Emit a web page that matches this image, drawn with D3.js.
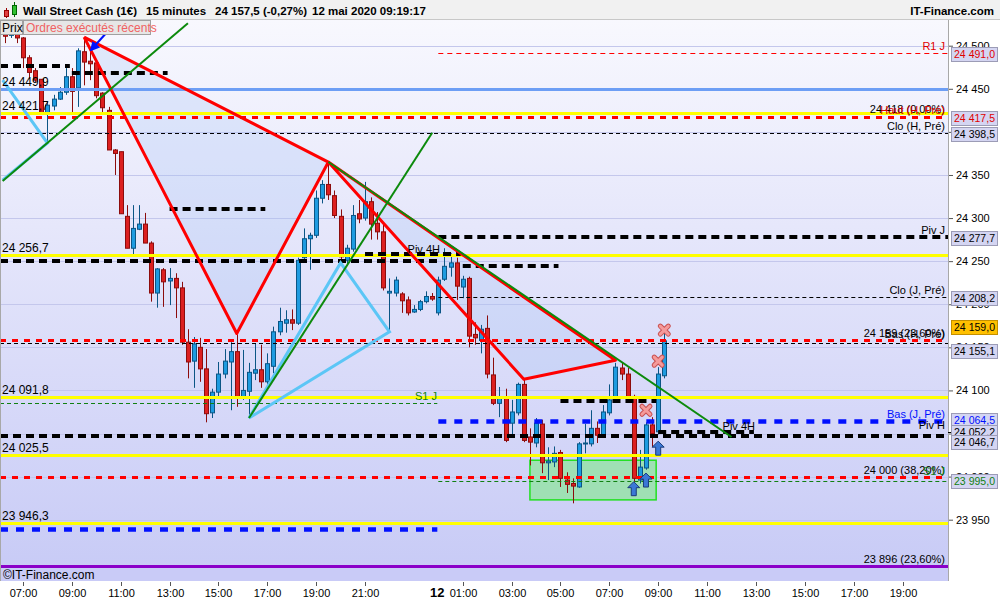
<!DOCTYPE html>
<html>
<head>
<meta charset="utf-8">
<script src="https://d3js.org/d3.v7.min.js"></script>
<style>
  body { margin: 0; background: #fff; }
  svg { display: block; font-family: "Liberation Sans", Arial, sans-serif; }
</style>
</head>
<body>
<div id="chart"></div>
<script>
// ---- data (Wall Street Cash, 15 min candles, 11/05 06:15 -> 12/05 09:15) ----
var firstCandle = new Date(2020, 4, 11, 6, 15);
var lastCandle = new Date(2020, 4, 12, 9, 15);

var opens = [
  24515,24512,24514,24509,24486,24471,24461,24422,24430,24438,
  24446,24464,24451,24493,24482,24480,24445,24425,24379,24377,
  24302,24265,24287,24293,24271,24213,24240,24227,24230,24219,
  24156,24134,24150,24125,24074,24098,24119,24133,24145,24092,
  24099,24120,24124,24110,24128,24168,24178,24182,24178,24254,
  24276,24280,24323,24339,24326,24302,24251,24264,24305,24300,
  24319,24294,24284,24213,24213,24212,24205,24191,24194,24203,
  24209,24190,24229,24243,24248,24220,24230,24165,24158,24172,
  24118,24085,24092,24062,24074,24107,24046,24039,24061,24016,
  24017,24028,23996,23992,23988,24038,24038,24056,24048,24074,
  24089,24126,24119,24093,23996,24010,24060,24052,24117
];
var highs = [
  24516,24516,24516,24510,24489,24474,24461,24435,24443,24452,
  24474,24474,24497,24510,24497,24483,24446,24429,24380,24377,
  24315,24315,24315,24306,24273,24242,24242,24242,24236,24226,
  24171,24162,24161,24148,24102,24133,24148,24156,24165,24147,
  24132,24155,24153,24143,24174,24196,24193,24194,24254,24288,
  24283,24332,24344,24365,24332,24310,24269,24315,24321,24342,
  24324,24307,24292,24230,24232,24214,24209,24199,24205,24215,
  24213,24232,24265,24259,24254,24233,24232,24179,24176,24187,
  24138,24104,24102,24089,24109,24113,24056,24068,24066,24034,
  24035,24031,24005,23998,24040,24061,24077,24064,24083,24107,
  24132,24132,24126,24095,24031,24063,24069,24127,24168
];
var lows = [
  24503,24509,24503,24474,24462,24458,24422,24388,24425,24437,
  24443,24421,24429,24454,24460,24439,24423,24379,24350,24305,
  24265,24257,24286,24271,24203,24196,24197,24199,24184,24153,
  24114,24103,24110,24063,24068,24093,24114,24077,24081,24089,
  24068,24112,24103,24106,24120,24164,24167,24170,24176,24249,
  24240,24277,24317,24321,24300,24249,24245,24261,24294,24297,
  24275,24275,24216,24168,24209,24190,24187,24190,24192,24201,
  24204,24187,24227,24232,24205,24207,24150,24153,24143,24114,
  24083,24069,24040,24046,24071,24040,24013,24034,24004,23996,
  24011,23988,23981,23969,23987,24027,24035,24039,24046,24071,
  24086,24112,24086,23994,23992,24008,24034,24049,24114
];
var closes = [
  24511,24515,24509,24486,24469,24460,24422,24431,24438,24446,
  24464,24447,24494,24481,24479,24442,24428,24379,24375,24305,
  24265,24288,24293,24271,24213,24241,24226,24230,24219,24156,
  24133,24154,24125,24073,24098,24119,24134,24145,24093,24100,
  24121,24124,24110,24131,24168,24180,24182,24178,24251,24276,
  24280,24323,24339,24327,24303,24255,24265,24303,24299,24319,
  24293,24284,24219,24215,24228,24204,24190,24194,24203,24209,
  24206,24228,24244,24248,24221,24229,24163,24161,24171,24119,
  24085,24092,24042,24075,24107,24042,24040,24062,24016,24018,
  24027,23998,23991,23989,24038,24039,24056,24048,24075,24089,
  24127,24119,24093,23998,24011,24060,24050,24119,24157.5
];

// x axis labels
var day1Ticks = ["07:00","09:00","11:00","13:00","15:00","17:00","19:00","21:00"];
var day2Ticks = ["01:00","03:00","05:00","07:00","09:00","11:00","13:00","15:00","17:00","19:00"];

// horizontal levels
var yellowLevels = [24421.7, 24256.7, 24091.8, 24025.5, 23946.3];
var blueLevel = 24449.9;
var weekNames = ["Haut (H, Pré)", "Clo (H, Pré)", "Bas (H, Pré)"];
var weekValues = [24417.5, 24398.5, 24155.1];
var dayNames = ["R1 J", "Piv J", "Clo (J, Pré)", "Bas (J, Pré)", "S1 J"];
var dayValues = [24491.0, 24277.7, 24208.2, 24064.5, 23995.0];
var prevDayNames = ["Piv J", "S1 J", "Bas (J, Pré)"];
var prevDayValues = [24250, 24085, 23939];
var fibLabels = ["24 418 (0,00%)", "24 159 (23,60%)", "24 000 (38,20%)", "23 896 (23,60%)"];
var fibValues = [24418, 24159, 24000, 23896];
var piv4hStarts = ["2020-05-11 05:00","2020-05-11 09:00","2020-05-11 13:00","2020-05-11 21:00",
                   "2020-05-12 01:00","2020-05-12 05:00","2020-05-12 09:00"];
var piv4hValues = [24477, 24468, 24310, 24258, 24244, 24088, 24052];
var pivH = 24052.2;
var lastPrice = 24159.0;

// drawing objects (time, price)
var harmonicTimes = ["2020-05-11 09:30","2020-05-11 15:45","2020-05-11 19:30","2020-05-12 03:30","2020-05-12 07:15"];
var harmonicPrices = [24510, 24166, 24365, 24113, 24135];
var cyanTimes = ["2020-05-11 16:15","2020-05-11 20:00","2020-05-11 22:00"];
var cyanPrices = [24068, 24248, 24168];
var cyanOldTimes = ["2020-05-11 06:10","2020-05-11 08:00","2020-05-11 06:10"];
var cyanOldPrices = [24460, 24387, 24344];
var trendStarts = ["2020-05-11 06:10","2020-05-11 16:15","2020-05-11 19:30"];
var trendStartPrices = [24343, 24068, 24365];
var trendEnds = ["2020-05-11 13:45","2020-05-11 23:45","2020-05-12 12:00"];
var trendEndPrices = [24526, 24399, 24046];
var zoneTimes = ["2020-05-12 03:45","2020-05-12 08:55"];
var zonePrices = [24019, 23973];
var crossTimes = ["2020-05-12 09:15","2020-05-12 09:00","2020-05-12 08:30"];
var crossPrices = [24170, 24134, 24077];
var buyTimes = ["2020-05-12 09:00","2020-05-12 08:30","2020-05-12 08:00"];
var buyPrices = [24033, 23996, 23986];

// ---- layout ----
var W = 1000, H = 600;
var plotL = 0, plotR = 948, plotT = 20, plotB = 568;
var parseT = d3.timeParse("%Y-%m-%d %H:%M");
var dayBreak = new Date(2020, 4, 12, 0, 0);

var x = d3.scaleTime()
  .domain([new Date(2020, 4, 11, 7, 0), new Date(2020, 4, 12, 19, 0)])
  .range([23, 902.5]);
var y = d3.scaleLinear()
  .domain([23950, 24500])
  .range([519.7, 45.7]);

var svg = d3.select("#chart").append("svg")
  .attr("width", W).attr("height", H);

var defs = svg.append("defs");
var grad = defs.append("linearGradient").attr("id", "bg")
  .attr("x1", 0).attr("y1", 0).attr("x2", 0).attr("y2", 1);
grad.append("stop").attr("offset", "0%").attr("stop-color", "#f8f8fe");
grad.append("stop").attr("offset", "100%").attr("stop-color", "#c8cbf6");
defs.append("clipPath").attr("id", "clip").append("rect")
  .attr("x", plotL).attr("y", plotT).attr("width", plotR - plotL).attr("height", plotB - plotT);
defs.append("marker").attr("id", "arrowhead")
  .attr("viewBox", "0 0 10 10").attr("refX", 8).attr("refY", 5)
  .attr("markerWidth", 5).attr("markerHeight", 5).attr("orient", "auto")
  .append("path").attr("d", "M0,0L10,5L0,10z").attr("fill", "#0010ff");

// background
svg.append("rect").attr("x", 0).attr("y", 0).attr("width", W).attr("height", H).attr("fill", "#fff");
svg.append("rect").attr("x", plotL).attr("y", plotT).attr("width", plotR - plotL)
  .attr("height", plotB - plotT).attr("fill", "url(#bg)");
svg.append("rect").attr("x", 0).attr("y", plotB).attr("width", plotR).attr("height", 13)
  .attr("fill", "#c9cbf7");
svg.append("text").attr("x", 3).attr("y", plotB + 11).attr("font-size", 12)
  .text("©IT-Finance.com");

var plot = svg.append("g").attr("clip-path", "url(#clip)");

// grid
plot.append("g").selectAll("line").data(d3.range(23950, 24501, 50)).join("line")
  .attr("x1", plotL).attr("x2", plotR)
  .attr("y1", function(d) { return Math.round(y(d)) + 0.5; })
  .attr("y2", function(d) { return Math.round(y(d)) + 0.5; })
  .attr("stroke", "#c4c7ec").attr("stroke-width", 1);

function pt(t, p) { return [x(parseT(t)), y(p)]; }

// harmonic pattern fills
var hp = harmonicTimes.map(function(t, i) { return pt(t, harmonicPrices[i]); });
plot.append("path")
  .attr("d", d3.line()([hp[0], hp[1], hp[2]]) + "Z")
  .attr("fill", "rgba(160,190,245,0.25)");
plot.append("path")
  .attr("d", d3.line()([hp[2], hp[3], hp[4]]) + "Z")
  .attr("fill", "rgba(160,190,245,0.25)");

// zone rectangle
var z0 = pt(zoneTimes[0], zonePrices[0]), z1 = pt(zoneTimes[1], zonePrices[1]);
plot.append("rect").attr("x", z0[0]).attr("y", z0[1])
  .attr("width", z1[0] - z0[0]).attr("height", z1[1] - z0[1])
  .attr("fill", "#9fe0b4").attr("stroke", "#22e022").attr("stroke-width", 1.5);

// candles
var candleTimes = d3.timeMinute.every(15).range(firstCandle, new Date(+lastCandle + 60000));
var candles = candleTimes.map(function(t, i) {
  return { t: t, o: opens[i], h: highs[i], l: lows[i], c: closes[i] };
});
var cg = plot.append("g").selectAll("g").data(candles).join("g");
cg.append("line")
  .attr("x1", function(d) { return Math.round(x(d.t)) + 0.5; })
  .attr("x2", function(d) { return Math.round(x(d.t)) + 0.5; })
  .attr("y1", function(d) { return y(d.h); })
  .attr("y2", function(d) { return y(d.l); })
  .attr("stroke", function(d) { return d.c >= d.o ? "#0b5585" : "#8c0c0c"; });
cg.append("rect")
  .attr("x", function(d) { return Math.round(x(d.t)) - 1.5; })
  .attr("width", 4)
  .attr("y", function(d) { return y(Math.max(d.o, d.c)); })
  .attr("height", function(d) { return Math.max(1, Math.abs(y(d.o) - y(d.c))); })
  .attr("fill", function(d) { return d.c >= d.o ? "#1e9be0" : "#dc2020"; })
  .attr("stroke", function(d) { return d.c >= d.o ? "#0b5585" : "#8c0c0c"; })
  .attr("stroke-width", 1);

// level lines
var styles = {
  yellow:     { stroke: "#ffff00", w: 3, dash: null },
  blue:       { stroke: "#6d9ef5", w: 3, dash: null },
  purple:     { stroke: "#8a00c8", w: 3, dash: null },
  redThick:   { stroke: "#ff0000", w: 3, dash: "6,6" },
  blackThick: { stroke: "#000000", w: 4, dash: "8,5" },
  blueThick:  { stroke: "#0010ff", w: 4.5, dash: "8,8" },
  blackThin:  { stroke: "#000000", w: 1, dash: "4,3" },
  redThin:    { stroke: "#ff0000", w: 1, dash: "5,4" },
  greenThin:  { stroke: "#108010", w: 1, dash: "4,3" }
};
function hline(price, x0, x1, st) {
  var s = styles[st];
  var yy = Math.round(y(price)) + (s.w % 2 ? 0.5 : 0);
  plot.append("line").attr("x1", x0).attr("x2", x1).attr("y1", yy).attr("y2", yy)
    .attr("stroke", s.stroke).attr("stroke-width", s.w)
    .attr("stroke-dasharray", s.dash);
}
var xBreak = x(dayBreak) - 1;

hline(weekValues[0], plotL, plotR, "redThick");
hline(weekValues[1], plotL, plotR, "blackThin");
hline(weekValues[2], plotL, plotR, "blackThin");
hline(fibValues[1], plotL, plotR, "redThick");
hline(fibValues[2], plotL, plotR, "redThick");
hline(fibValues[3], plotL, plotR, "purple");
hline(blueLevel, plotL, plotR, "blue");
yellowLevels.forEach(function(v) { hline(v, plotL, plotR, "yellow"); });

// previous day pivots (left of day break)
hline(prevDayValues[0], plotL, xBreak, "blackThick");
hline(prevDayValues[1], plotL, xBreak, "greenThin");
hline(prevDayValues[2], plotL, xBreak, "blueThick");
// current day pivots
hline(dayValues[0], xBreak + 1, plotR, "redThin");
hline(dayValues[1], xBreak + 1, plotR, "blackThick");
hline(dayValues[2], xBreak + 1, plotR, "blackThin");
hline(dayValues[3], xBreak + 1, plotR, "blueThick");
hline(dayValues[4], xBreak + 1, plotR, "greenThin");
hline(24046.7, plotL, plotR, "blackThick");

// 4h pivots
piv4hStarts.forEach(function(t, i) {
  var t0 = parseT(t);
  var t1 = d3.timeHour.offset(t0, 4);
  hline(piv4hValues[i], Math.max(plotL, x(t0)), x(t1) - 2, "blackThick");
});

// harmonic pattern lines
var red = plot.append("g").attr("fill", "none").attr("stroke", "#ff0000")
  .attr("stroke-width", 3).attr("stroke-linejoin", "round");
red.append("path").attr("d", d3.line()([hp[0], hp[1], hp[2], hp[0]]));
red.append("path").attr("d", d3.line()([hp[2], hp[3], hp[4], hp[2]]));

// cyan triangles
var cp = cyanTimes.map(function(t, i) { return pt(t, cyanPrices[i]); });
plot.append("path").attr("d", d3.line()(cp) + "Z")
  .attr("fill", "none").attr("stroke", "#5cc6f6").attr("stroke-width", 3);
var co = cyanOldTimes.map(function(t, i) { return pt(t, cyanOldPrices[i]); });
plot.append("path").attr("d", d3.line()(co))
  .attr("fill", "none").attr("stroke", "#5cc6f6").attr("stroke-width", 3);

// green trend lines
trendStarts.forEach(function(t, i) {
  var a = pt(t, trendStartPrices[i]), b = pt(trendEnds[i], trendEndPrices[i]);
  plot.append("line").attr("x1", a[0]).attr("y1", a[1]).attr("x2", b[0]).attr("y2", b[1])
    .attr("stroke", "#0c8a0c").attr("stroke-width", 2);
});

// blue arrow near the top
var ba = pt("2020-05-11 10:25", 24515), bb = pt("2020-05-11 09:47", 24495);
plot.append("line").attr("x1", ba[0]).attr("y1", ba[1]).attr("x2", bb[0]).attr("y2", bb[1])
  .attr("stroke", "#0010ff").attr("stroke-width", 2).attr("marker-end", "url(#arrowhead)");

// signals
crossTimes.forEach(function(t, i) {
  var p = pt(t, crossPrices[i]);
  var d = "M-4,-4L4,4M4,-4L-4,4";
  var g = plot.append("g").attr("transform", "translate(" + p[0] + "," + p[1] + ")");
  g.append("path").attr("d", d).attr("stroke", "#c85050").attr("stroke-width", 5).attr("stroke-linecap", "round");
  g.append("path").attr("d", d).attr("stroke", "#f59a9a").attr("stroke-width", 3).attr("stroke-linecap", "round");
});
buyTimes.forEach(function(t, i) {
  var p = pt(t, buyPrices[i]);
  plot.append("path")
    .attr("transform", "translate(" + p[0] + "," + p[1] + ")")
    .attr("d", "M0,-7L6,-1L2.5,-1L2.5,7L-2.5,7L-2.5,-1L-6,-1Z")
    .attr("fill", "#3b78d6").attr("stroke", "#1a3c7a").attr("stroke-width", 1);
});

// line labels
var lab = svg.append("g").attr("font-size", 11);
function rlabel(txt, price, color, xr, dy) {
  lab.append("text").attr("x", xr).attr("y", y(price) - (dy || 3))
    .attr("text-anchor", "end").attr("fill", color).text(txt);
}
rlabel(dayNames[0], dayValues[0], "#e00000", 945);
rlabel(fibLabels[0], fibValues[0], "#000", 945);
rlabel(weekNames[0], weekValues[0], "#e00000", 945);
rlabel(weekNames[1], weekValues[1], "#000", 945);
rlabel(dayNames[1], dayValues[1], "#000", 945);
rlabel(dayNames[2], dayValues[2], "#000", 945);
rlabel(fibLabels[1], fibValues[1], "#000", 945);
rlabel(weekNames[2], weekValues[2], "#000", 945, 5);
rlabel(dayNames[3], dayValues[3], "#0010ff", 945);
rlabel("Piv H", pivH, "#000", 945);
rlabel(fibLabels[2], fibValues[2], "#000", 945);
rlabel(dayNames[4], dayValues[4], "#108010", 945, 6);
rlabel(fibLabels[3], fibValues[3], "#000", 945);
rlabel(prevDayNames[1], prevDayValues[1], "#108010", 437);
rlabel("Piv 4H", piv4hValues[3], "#000", 440, 1);
rlabel("Piv 4H", piv4hValues[6], "#000", 755, 2);

// left value labels
var leftVals = [blueLevel].concat(yellowLevels);
leftVals.forEach(function(v) {
  lab.append("text").attr("x", 2).attr("y", y(v) - 3).attr("font-size", 12)
    .text(d3.format(",.1f")(v).replace(",", " ").replace(".", ","));
});

// right axis
var fmt = function(v) { return d3.format(",")(v).replace(",", " "); };
var yAxis = svg.append("g").attr("transform", "translate(" + plotR + ",0)")
  .call(d3.axisRight(y).tickValues(d3.range(23950, 24501, 50)).tickSize(5).tickPadding(3).tickFormat(fmt));
yAxis.select(".domain").remove();
yAxis.selectAll("line").attr("stroke", "#555");
yAxis.selectAll("text").attr("font-size", 11).attr("fill", "#000")
  .attr("font-family", "Liberation Sans, Arial, sans-serif");
svg.append("line").attr("x1", plotR + 0.5).attr("x2", plotR + 0.5).attr("y1", plotT).attr("y2", 581)
  .attr("stroke", "#a8a8a8");
svg.append("line").attr("x1", 0.5).attr("x2", 0.5).attr("y1", plotT).attr("y2", 581)
  .attr("stroke", "#a8a8a8");

// price boxes
var boxVals = [dayValues[0], weekValues[0], weekValues[1], dayValues[1], dayValues[2],
               lastPrice, weekValues[2], dayValues[3], pivH, 24046.7, dayValues[4]];
var boxColors = ["#e00000","#e00000","#000","#000","#000","#000","#000","#0010ff","#000","#000","#108010"];
var boxShift = [1, 1, 1, 1, 1, -13, 8, -1, 0, 6, 0];
var boxG = svg.append("g").attr("font-size", 11);
boxVals.forEach(function(v, i) {
  var cy = y(v) + boxShift[i];
  var cur = i === 5;
  if (i === 8) {
    boxG.append("line").attr("x1", plotR).attr("x2", plotR + 5)
      .attr("y1", Math.round(y(v)) + 0.5).attr("y2", Math.round(y(v)) + 0.5).attr("stroke", "#000");
  }
  boxG.append("rect").attr("x", 951.5).attr("y", Math.round(cy - 7) + 0.5)
    .attr("width", 46).attr("height", 14)
    .attr("fill", cur ? "#ffc000" : "#d4d5f2").attr("stroke", cur ? "#c49000" : "#9c9cb6");
  boxG.append("text").attr("x", 974.5).attr("y", cy + 4).attr("fill", boxColors[i])
    .attr("text-anchor", "middle").attr("textLength", 41).attr("lengthAdjust", "spacingAndGlyphs")
    .text(d3.format(",.1f")(v).replace(",", " ").replace(".", ","));
});

// x axis
var xa = svg.append("g").attr("font-size", 11);
function tickAt(date, label) {
  var xx = Math.round(x(date)) + 0.5;
  xa.append("line").attr("x1", xx).attr("x2", xx).attr("y1", 582).attr("y2", 586).attr("stroke", "#555");
  xa.append("text").attr("x", xx).attr("y", 597).attr("text-anchor", "middle").text(label);
}
day1Ticks.forEach(function(s) { tickAt(parseT("2020-05-11 " + s), s); });
day2Ticks.forEach(function(s) { tickAt(parseT("2020-05-12 " + s), s); });
xa.append("text").attr("x", x(dayBreak) - 1).attr("y", 597).attr("text-anchor", "middle")
  .attr("font-weight", "bold").attr("font-size", 13).text("12");

// header
svg.append("rect").attr("x", 0).attr("y", 0).attr("width", W).attr("height", 19).attr("fill", "#f1f1f1");
svg.append("line").attr("x1", 0).attr("x2", W).attr("y1", 19.5).attr("y2", 19.5).attr("stroke", "#c8c8c8");
var icon = svg.append("g");
icon.append("line").attr("x1", 6.5).attr("x2", 6.5).attr("y1", 8).attr("y2", 18).attr("stroke", "#900");
icon.append("rect").attr("x", 4.5).attr("y", 10.5).attr("width", 4).attr("height", 6).attr("fill", "#e04040").attr("stroke", "#900");
icon.append("line").attr("x1", 14.5).attr("x2", 14.5).attr("y1", 2).attr("y2", 17).attr("stroke", "#060");
icon.append("rect").attr("x", 12.5).attr("y", 5.5).attr("width", 4).attr("height", 9).attr("fill", "#30c030").attr("stroke", "#060");
var hd = svg.append("g").attr("font-size", 11.5).attr("font-weight", "bold");
hd.append("text").attr("x", 23).attr("y", 15).text("Wall Street Cash (1€)");
hd.append("text").attr("x", 146).attr("y", 15).text("15 minutes");
hd.append("text").attr("x", 215).attr("y", 15).text("24 157,5 (-0,27%)");
hd.append("text").attr("x", 312).attr("y", 15).text("12 mai 2020 09:19:17");
hd.append("text").attr("x", 994).attr("y", 15).attr("text-anchor", "end").text("IT-Finance.com");

// buttons
svg.append("rect").attr("x", 0.5).attr("y", 20.5).attr("width", 22).attr("height", 14)
  .attr("fill", "#e6e6e6").attr("stroke", "#a0a0a0");
svg.append("text").attr("x", 2).attr("y", 32).attr("font-size", 12).text("Prix");
svg.append("rect").attr("x", 23.5).attr("y", 20.5).attr("width", 127).attr("height", 14)
  .attr("fill", "#e6e6e6").attr("stroke", "#a0a0a0");
svg.append("text").attr("x", 26).attr("y", 32).attr("font-size", 12).attr("fill", "#f06262")
  .text("Ordres exécutés récents");
</script>
</body>
</html>
